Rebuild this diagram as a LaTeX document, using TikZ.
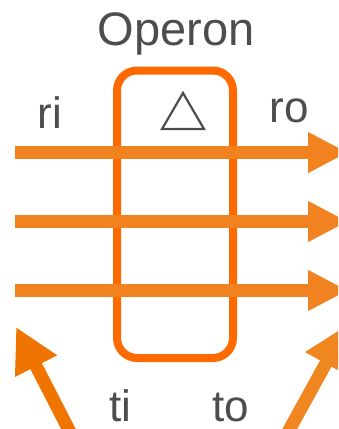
\documentclass[tikz,border=0pt]{standalone}
\usepackage{fontspec}
\setmainfont{Liberation Sans}
\usetikzlibrary{arrows.meta}
\definecolor{lineorange}{HTML}{F0831F}
\definecolor{leftorange}{HTML}{F07400}
\definecolor{rightorange}{HTML}{F0861F}
\definecolor{boxorange}{HTML}{FF6A00}
\definecolor{txtgray}{HTML}{4D4D4D}
\tikzset{
  lbl/.style={anchor=base, text=txtgray, inner sep=0pt, text depth=0pt, font=\fontsize{44}{44}\selectfont},
  title/.style={anchor=base, text=txtgray, inner sep=0pt, font=\fontsize{47}{47}\selectfont},
  flow/.style={draw=lineorange, line width=13pt, -{Triangle[length=40pt,width=38pt]}},
  sig/.style={line width=13pt, -{Triangle[length=44pt,width=44pt]}},
  opbox/.style={draw=boxorange, line width=8pt, rounded corners=20pt, minimum width=116pt, minimum height=287.5pt, inner sep=0pt}
}
\begin{document}
\begin{tikzpicture}[x=1pt,y=-1pt]
\useasboundingbox (0,0) rectangle (338,429);
\clip (0,0) rectangle (338,429);
\node[opbox] (box) at (175,214.25) {};
\draw[draw=txtgray, line width=2.2pt, line join=miter] (183,93) -- (162,129) -- (204,129) -- cycle;
\node[title] (op) at (176,45) {Operon};
\node[lbl] (ri) at (50,128) {ri};
\node[lbl] (ro) at (289,122) {ro};
\node[lbl] (ti) at (120,421) {ti};
\node[lbl] (to) at (231,421) {to};
\coordinate (a1s) at (15,152.5); \coordinate (a1e) at (348,152.5);
\coordinate (a2s) at (15,221.5); \coordinate (a2e) at (348,221.5);
\coordinate (a3s) at (15,290.5); \coordinate (a3e) at (348,290.5);
\draw[flow] (a1s) -- (a1e);
\draw[flow] (a2s) -- (a2e);
\draw[flow] (a3s) -- (a3e);
\coordinate (ls) at (70,432); \coordinate (le) at (16,327);
\coordinate (rs) at (287.5,433); \coordinate (re) at (347,325);
\draw[sig, draw=leftorange, fill=leftorange] (ls) -- (le);
\draw[sig, draw=rightorange, fill=rightorange] (rs) -- (re);
\end{tikzpicture}
\end{document}
